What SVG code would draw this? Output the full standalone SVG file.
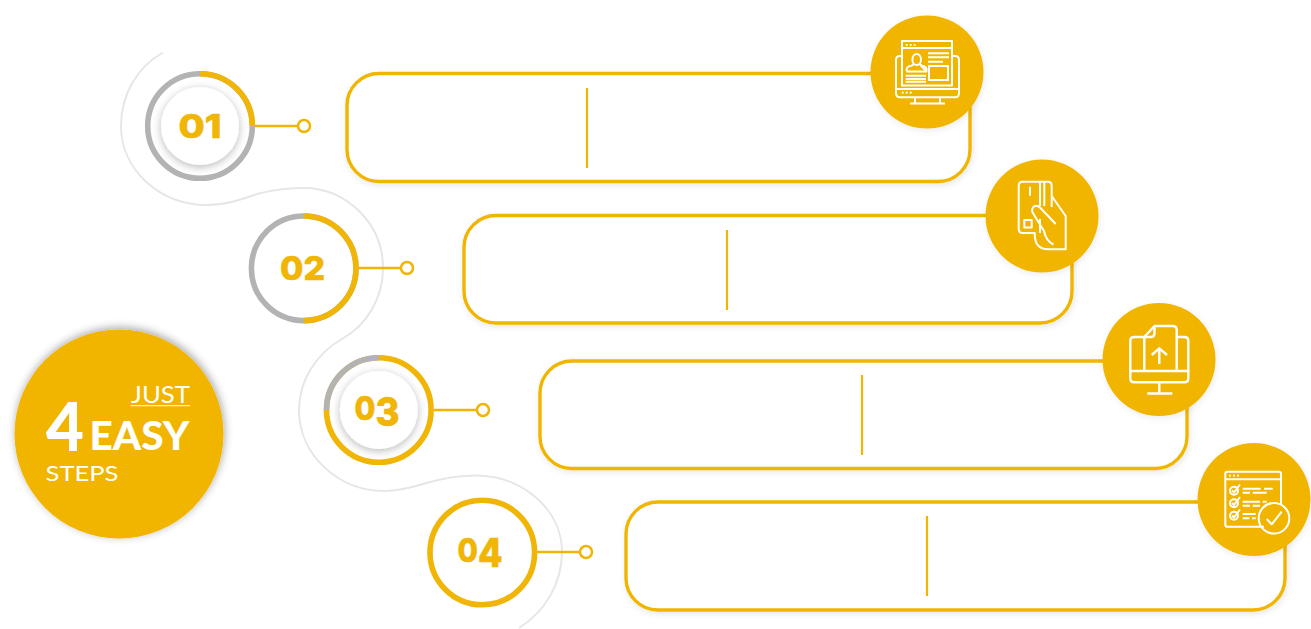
<svg xmlns="http://www.w3.org/2000/svg" width="1311" height="629" viewBox="0 0 1311 629">
<style>
.gold{fill:#f1b505}
.wave{fill:none;stroke:#e6e6e6;stroke-width:2}
.lead{stroke:#f1b505;stroke-width:2.500;fill:none}
.dot{fill:#fff;stroke:#f1b505;stroke-width:2.500}
.ring{fill:none;stroke-width:5.600}
.g{stroke:#f1b505}
.s{stroke:#b3b3b3}
.box{fill:#fff;stroke:#f1b505;stroke-width:3.400;filter:url(#soft)}
.div{stroke:#f1b505;stroke-width:2.200}
.ico{fill:none;stroke:#fff;stroke-width:2;stroke-linejoin:round;stroke-linecap:butt}
.wd{fill:#fff}
.num{font-family:Inter,"Liberation Sans",sans-serif;font-weight:800;font-size:33px;fill:#f1b505;stroke:#f1b505;stroke-width:.6}
.t{font-family:Lato,"Open Sans",sans-serif;fill:#fff}
</style>
<defs>
<filter id="soft" x="-5%" y="-10%" width="110%" height="125%"><feDropShadow dx="1" dy="2" stdDeviation="3" flood-color="#000" flood-opacity=".1"/></filter>
<filter id="disc" x="-30%" y="-30%" width="160%" height="160%"><feDropShadow dx="0" dy="2" stdDeviation="4" flood-color="#000" flood-opacity=".28"/></filter>
<filter id="big" x="-20%" y="-20%" width="140%" height="140%"><feDropShadow dx="1" dy="-2" stdDeviation="4.500" flood-color="#000" flood-opacity=".35"/></filter>
<filter id="bub" x="-20%" y="-20%" width="140%" height="140%"><feDropShadow dx="1" dy="2" stdDeviation="3" flood-color="#000" flood-opacity=".08"/></filter>
</defs>

<g id="connectors">
<path class="wave" d="M163 52.500C137 67 121 95 121 126C121 170 160 205 207 205C225 205 240 200 257 194C272 190 287 188 303 188C347 188 383 224 383 268C383 298 367 325 342 339C317 353 299 380 299 410C299 455 338 491 385 491C403 491 416 486 430 482C445 478 460 475.500 475 475.500C523 475.500 562 510 562 552C562 583 545 612 519 628"/>
<path class="lead" d="M255 126H298M358 268H401M434 410H477M537 552H580"/>
<circle class="dot" cx="304" cy="126" r="6"/>
<circle class="dot" cx="407" cy="268" r="6"/>
<circle class="dot" cx="483" cy="410" r="6"/>
<circle class="dot" cx="586" cy="552" r="6"/>
</g>

<g id="step-01">
<circle class="ring s" cx="200" cy="126" r="52.300"/>
<path class="ring g" d="M200 73.700A52.300 52.300 0 0 1 252.300 126"/>
<circle cx="200" cy="126" r="39" fill="#fff" filter="url(#disc)"/>
<text class="num" x="200" y="137.500" text-anchor="middle" textLength="43" lengthAdjust="spacingAndGlyphs">01</text>
</g>
<g id="step-02">
<circle class="ring s" cx="303.700" cy="268.300" r="52.300"/>
<path class="ring g" d="M303.700 216A52.300 52.300 0 0 1 303.700 320.600"/>
<text class="num" x="302.500" y="280" text-anchor="middle" textLength="45" lengthAdjust="spacingAndGlyphs">02</text>
</g>
<g id="step-03">
<circle class="ring g" cx="378.800" cy="410" r="52.300"/>
<path class="ring s" d="M326.500 410A52.300 52.300 0 0 1 378.800 357.700"/>
<circle cx="378.800" cy="410" r="39" fill="#fff" filter="url(#disc)"/>
<text class="num" x="377" y="420" text-anchor="middle" textLength="45" lengthAdjust="spacingAndGlyphs">0<tspan dy="6" font-size="40">3</tspan></text>
</g>
<g id="step-04">
<circle class="ring g" cx="482.300" cy="552.500" r="52.300"/>
<text class="num" x="480" y="562" text-anchor="middle" textLength="45" lengthAdjust="spacingAndGlyphs">0<tspan dy="5" font-size="40">4</tspan></text>
</g>

<g id="card-01">
<rect class="box" x="347" y="73.500" width="623" height="108" rx="32"/>
<line class="div" x1="587" y1="88" x2="587" y2="168"/>
<circle class="gold" cx="927" cy="72" r="56.500" filter="url(#bub)"/>
<g class="ico">
<path d="M902 56H900Q896 56 896 60V93.300Q896 97.300 900 97.300H955Q959 97.300 959 93.300V60Q959 56 955 56H952"/>
<rect x="902" y="41" width="50" height="44.500"/>
<path d="M902 48H952M896 89H959M915 97.300V103M940 97.300V103M910 103.500H945"/>
<rect x="929" y="66" width="19" height="14"/>
<path d="M928 53.300H949M928 57.300H949M928 61.700H943M905.700 75.700H926M905.700 79H926M905.700 81.800H926"/>
<ellipse cx="916.700" cy="59.500" rx="4.300" ry="5.500"/>
<path d="M906.700 71.500V69Q906.700 66.500 912 65.500L914 64M919.500 64L921.500 65.500Q926.500 66.500 926.500 69V71.500Z"/>
<path d="M906.700 71.500H926.500"/>
</g>
<g class="wd"><circle cx="906.700" cy="45" r="1.100"/><circle cx="910.700" cy="45" r="1.100"/><circle cx="914.700" cy="45" r="1.100"/><circle cx="902.700" cy="92.700" r="1.100"/><circle cx="906.700" cy="92.700" r="1.100"/><circle cx="910.700" cy="92.700" r="1.100"/></g>
</g>

<g id="card-02">
<rect class="box" x="464" y="215.500" width="608" height="107.500" rx="32"/>
<line class="div" x1="727" y1="230" x2="727" y2="310"/>
<circle class="gold" cx="1042" cy="216" r="56.500" filter="url(#bub)"/>
<g class="ico">
<path d="M1035.500 233H1022.700Q1018.700 233 1018.700 229V185.700Q1018.700 181.700 1022.700 181.700H1047.700Q1051.700 181.700 1051.700 185.700V207"/>
<path d="M1030 186.700V195.700M1040 182V206M1044.300 182V206M1040 219V233"/>
<rect x="1024.300" y="220" width="7.400" height="7.400"/>
<path d="M1051.700 196L1065.700 216V249.300H1048.300Q1034.700 249.300 1034.700 234V233"/>
<path d="M1055.700 224L1040 207.500Q1036 204 1033 207.500Q1031 210.500 1033.500 214L1044 231Q1046 241 1053.500 244.500"/>
</g>
</g>

<g id="card-03">
<rect class="box" x="540" y="361" width="647" height="107.500" rx="32"/>
<line class="div" x1="862" y1="375" x2="862" y2="455"/>
<circle class="gold" cx="1159" cy="359.500" r="56.500" filter="url(#bub)"/>
<g class="ico" style="stroke-width:2.400">
<path d="M1144.300 337H1134.300Q1130.300 337 1130.300 341V378.300Q1130.300 382.300 1134.300 382.300H1184.300Q1188.300 382.300 1188.300 378.300V341Q1188.300 337 1184.300 337H1176.700"/>
<path d="M1130.300 371H1188.300"/>
<path d="M1144.300 371V337L1154.500 326H1172.700Q1176.700 326 1176.700 330V371"/>
<path d="M1144.300 337H1151Q1154.500 337 1154.500 333V326"/>
<path d="M1159.300 349V364M1151.700 355L1159.300 348.300L1167 355"/>
<path d="M1159.300 382.300V393M1147.300 393.500H1172.300"/>
</g>
</g>

<g id="card-04">
<rect class="box" x="626" y="502" width="659" height="108" rx="32"/>
<line class="div" x1="927" y1="516" x2="927" y2="596"/>
<circle class="gold" cx="1254" cy="499.500" r="56.500" filter="url(#bub)"/>
<g class="ico">
<path d="M1264 526.700H1227.300Q1225.300 526.700 1225.300 524.700V473.700Q1225.300 471.700 1227.300 471.700H1279Q1281 471.700 1281 473.700V504"/>
<path d="M1225.300 479.300H1281"/>
<circle cx="1234" cy="490.700" r="4"/>
<circle cx="1234" cy="503.300" r="4"/>
<circle cx="1234" cy="515.700" r="4"/>
<path d="M1232 490.500L1234 492.500L1240 484.500M1232 503L1234 505L1240 497M1232 515.500L1234 517.500L1240 509.500"/>
<path d="M1242.700 488.700H1260.700M1264 488.700H1272.700M1242.700 492.700H1250M1252.700 492.700H1266.700M1242.700 501.700H1260M1262.700 501.700H1266.700M1242.700 505.700H1250M1252.700 505.700H1260M1242.700 514H1255.700M1242.700 518.300H1249.500M1252 518.300H1255.700"/>
<circle cx="1274" cy="518.300" r="15.300"/>
<path d="M1266.700 519L1271.700 524.300L1281.700 511.700"/>
</g>
<g class="wd"><circle cx="1230" cy="475.700" r="1.100"/><circle cx="1234" cy="475.700" r="1.100"/><circle cx="1238" cy="475.700" r="1.100"/></g>
</g>

<g id="badge">
<circle class="gold" cx="119" cy="434" r="104.500" filter="url(#big)"/>
<text class="t" x="131" y="402.700" font-size="23" font-weight="400" textLength="59" lengthAdjust="spacingAndGlyphs">JUST</text>
<line x1="130.500" y1="405.700" x2="190" y2="405.700" stroke="#fff" stroke-width="1"/>
<text class="t" x="46" y="451" font-size="67" font-weight="900" textLength="38" lengthAdjust="spacingAndGlyphs">4</text>
<text class="t" x="89.500" y="449.500" font-size="39" font-weight="900" textLength="100" lengthAdjust="spacingAndGlyphs">EASY</text>
<text class="t" x="45.500" y="481" font-size="22" font-weight="400" textLength="73" lengthAdjust="spacingAndGlyphs">STEPS</text>
</g>
</svg>
